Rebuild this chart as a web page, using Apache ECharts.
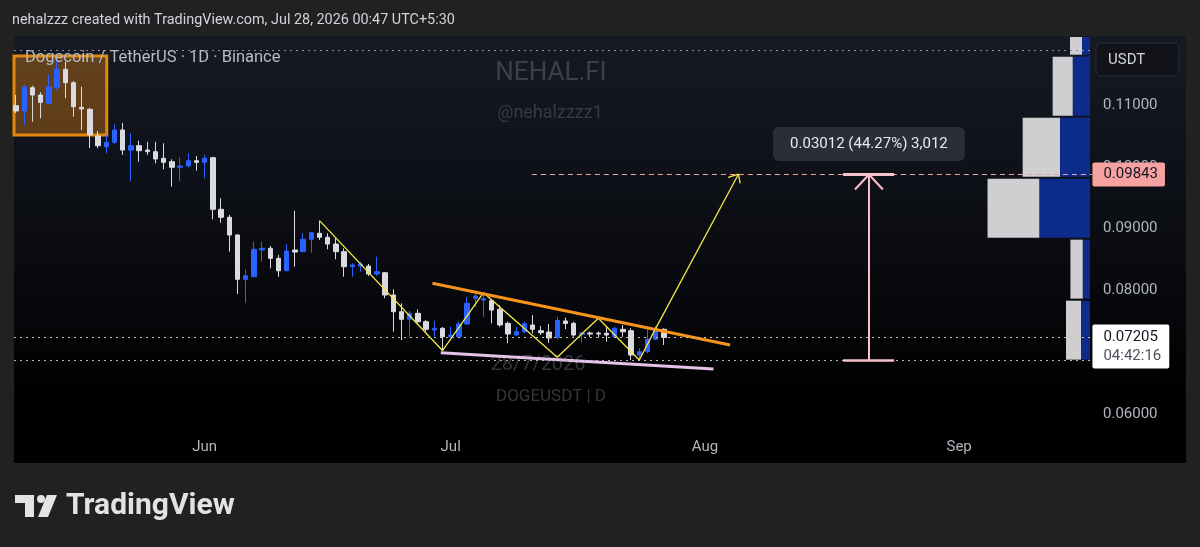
<!DOCTYPE html>
<html>
<head>
<meta charset="utf-8">
<title>DOGEUSDT 1D</title>
<script src="https://cdn.jsdelivr.net/npm/echarts@6/dist/echarts.min.js"></script>
<style>
  html, body { margin: 0; padding: 0; background: #212121; }
  #chart { width: 1200px; height: 547px; }
</style>
</head>
<body>
<div id="chart"></div>
<script>
// daily candles, first one on 2026-05-09, last one 2026-07-27
const startDate = '2026-05-09';
const opens = [0.10956, 0.10871, 0.11248, 0.11129, 0.10995, 0.11254, 0.11545, 0.11328, 0.10930, 0.10898,
  0.10466, 0.10293, 0.10364, 0.10563, 0.10239, 0.10309, 0.10239, 0.10212, 0.10105, 0.10050,
  0.09960, 0.09981, 0.10066, 0.10040, 0.10115, 0.09280, 0.09151, 0.08864, 0.08147, 0.08189,
  0.08621, 0.08649, 0.08487, 0.08286, 0.08621, 0.08594, 0.08795, 0.08892, 0.08827, 0.08718,
  0.08594, 0.08351, 0.08362, 0.08362, 0.08233, 0.08254, 0.07893, 0.07623, 0.07500, 0.07597,
  0.07461, 0.07327, 0.07354, 0.07218, 0.07218, 0.07424, 0.07840, 0.07812, 0.07801, 0.07662,
  0.07435, 0.07246, 0.07299, 0.07408, 0.07316, 0.07294, 0.07206, 0.07473, 0.07435, 0.07257,
  0.07278, 0.07278, 0.07273, 0.07218, 0.07338, 0.07316, 0.06922, 0.06976, 0.07176, 0.07338];
const closes = [0.10871, 0.11254, 0.11129, 0.11011, 0.11259, 0.11545, 0.11328, 0.10940, 0.10903, 0.10482,
  0.10309, 0.10364, 0.10563, 0.10239, 0.10309, 0.10228, 0.10212, 0.10094, 0.10040, 0.09960,
  0.09981, 0.10066, 0.10040, 0.10105, 0.09280, 0.09151, 0.08864, 0.08147, 0.08206, 0.08633,
  0.08649, 0.08487, 0.08286, 0.08605, 0.08589, 0.08795, 0.08901, 0.08827, 0.08718, 0.08594,
  0.08351, 0.08379, 0.08395, 0.08233, 0.08270, 0.07893, 0.07623, 0.07500, 0.07597, 0.07461,
  0.07338, 0.07354, 0.07218, 0.07246, 0.07424, 0.07759, 0.07877, 0.07833, 0.07650, 0.07408,
  0.07262, 0.07299, 0.07430, 0.07338, 0.07283, 0.07197, 0.07481, 0.07432, 0.07246, 0.07278,
  0.07262, 0.07262, 0.07246, 0.07354, 0.07299, 0.06922, 0.06976, 0.07176, 0.07338, 0.07205];
const lows = [0.10838, 0.10644, 0.10697, 0.10752, 0.10979, 0.11210, 0.11076, 0.10778, 0.10563, 0.10272,
  0.10272, 0.10186, 0.10332, 0.10159, 0.09738, 0.10050, 0.10159, 0.10024, 0.09927, 0.09646,
  0.09738, 0.09960, 0.09905, 0.09782, 0.09118, 0.09063, 0.08594, 0.07909, 0.07769, 0.08180,
  0.08432, 0.08325, 0.08189, 0.08286, 0.08351, 0.08594, 0.08578, 0.08783, 0.08633, 0.08471,
  0.08189, 0.08189, 0.08270, 0.08201, 0.08201, 0.07840, 0.07299, 0.07165, 0.07218, 0.07435,
  0.07299, 0.07218, 0.06995, 0.07193, 0.07193, 0.07408, 0.07699, 0.07542, 0.07435, 0.07380,
  0.07112, 0.07230, 0.07273, 0.07273, 0.07246, 0.07117, 0.07173, 0.07343, 0.07218, 0.07125,
  0.07214, 0.07206, 0.07138, 0.07218, 0.07218, 0.06841, 0.06831, 0.06950, 0.07165, 0.07084];
const highs = [0.11129, 0.11291, 0.11280, 0.11173, 0.11464, 0.11680, 0.11663, 0.11356, 0.11264, 0.10919,
  0.10547, 0.10482, 0.10655, 0.10676, 0.10515, 0.10390, 0.10374, 0.10374, 0.10348, 0.10089,
  0.10115, 0.10186, 0.10142, 0.10159, 0.10131, 0.09458, 0.09188, 0.08880, 0.08309, 0.08756,
  0.08756, 0.08686, 0.08541, 0.08718, 0.09257, 0.08892, 0.08918, 0.09096, 0.08892, 0.08811,
  0.08649, 0.08406, 0.08432, 0.08395, 0.08513, 0.08265, 0.07985, 0.07759, 0.07634, 0.07662,
  0.07489, 0.07477, 0.07375, 0.07380, 0.07461, 0.07866, 0.07930, 0.07921, 0.07828, 0.07731,
  0.07461, 0.07380, 0.07461, 0.07570, 0.07392, 0.07424, 0.07542, 0.07529, 0.07461, 0.07299,
  0.07303, 0.07303, 0.07392, 0.07380, 0.07408, 0.07354, 0.07031, 0.07354, 0.07392, 0.07354];

const monthStarts = ['2026-06-01', '2026-07-01', '2026-08-01', '2026-09-01'];
const monthLabels = ['Jun', 'Jul', 'Aug', 'Sep'];
const priceTicks = [0.06, 0.07, 0.08, 0.09, 0.10, 0.11];

// drawings, as [day index, price]
const zigzag = [[37, 0.09096], [52, 0.06995], [57, 0.07930], [66, 0.06885], [71, 0.07516], [76, 0.06841], [78, 0.07354]];
const targetArrow = [[78, 0.07354], [88.1, 0.09851]];
const arrowWings = [[86.83, 0.09798], [88.29, 0.09701]];
const resistance = [[50.77, 0.08083], [87.07, 0.07084]];
const support = [[51.79, 0.06960], [85.04, 0.06696]];
const boxArea = [[-0.33, 0.11760], [11.06, 0.10482]];
const targetPrice = 0.09843;
const targetFrom = 62.9;
const measureLow = 0.06831;
const measureDay = 104;
const measureCap = [100.85, 107.07];
const measureWing = [[102.3, 0.09600], [105.7, 0.09600]];
const measureText = '0.03012 (44.27%) 3,012';
const lastPrice = 0.07205;
const countdown = '04:42:16';
const rangeHigh = 0.11858;

// visible range volume profile rows, bottom to top
const vpEdges = [0.06831, 0.07818, 0.08805, 0.09792, 0.10779, 0.11766, 0.12753];
const vpBlue = [102, 86, 489, 297, 179, 93];
const vpGray = [139, 114, 480, 346, 186, 111];

const xMin = -0.25, xMax = 131.2;
const DAY = 86400000;
const dayIndex = d => Math.round((Date.parse(d) - Date.parse(startDate)) / DAY);
const monthIdx = monthStarts.map(dayIndex);

const candles = opens.map((o, i) => [i, o, closes[i], lows[i], highs[i]]);
const vpRows = vpBlue.map((b, i) => [vpEdges[i], vpEdges[i + 1], b, vpGray[i]]);

const seg = (a, b, style) => [{coord: a, lineStyle: style}, {coord: b}];
const hline = (p, style) => seg([xMin, p], [xMax, p], style);

const chart = echarts.init(document.getElementById('chart'));
const font = 'Roboto, sans-serif';

const option = {
  animation: false,
  backgroundColor: '#212121',
  textStyle: {fontFamily: font},
  grid: {left: 14, right: 108, top: 37, bottom: 117, containLabel: false, outerBoundsMode: 'none'},
  xAxis: [
    {
      type: 'value', min: xMin, max: xMax,
      axisLine: {show: false}, axisTick: {show: false}, splitLine: {show: false},
      axisLabel: {
        customValues: monthIdx, color: '#b2b5be', fontSize: 15, margin: 10, fontFamily: font,
        formatter: v => monthLabels[monthIdx.indexOf(v)] || ''
      }
    },
    {type: 'value', min: 0, max: 10000, inverse: true, show: false, position: 'top'}
  ],
  yAxis: {
    type: 'value', position: 'right', min: 0.05709, max: 0.12068, scale: true,
    axisLine: {show: false}, axisTick: {show: false}, splitLine: {show: false},
    axisLabel: {
      customValues: priceTicks, margin: 11,
      formatter: v => '{v|' + v.toFixed(5) + '}',
      rich: {v: {color: '#b2b5be', fontSize: 15, fontFamily: font, padding: [4, 0, 0, 0]}}
    }
  },
  graphic: [
    {
      type: 'rect', z: -2, silent: true,
      shape: {x: 14, y: 36, width: 1172, height: 427},
      style: {fill: new echarts.graphic.LinearGradient(0, 0, 0, 1, [
        {offset: 0, color: '#161a25'}, {offset: 0.5, color: '#0a0c11'}, {offset: 0.85, color: '#000000'}, {offset: 1, color: '#000000'}
      ])}
    },
    {type: 'text', z: -1, silent: true, x: 551, y: 73, style: {text: 'NEHAL.FI', fill: '#3b404d', font: '26px ' + font, align: 'center', verticalAlign: 'middle'}},
    {type: 'text', z: -1, silent: true, x: 550, y: 113, style: {text: '@nehalzzzz1', fill: '#353a46', font: '18px ' + font, align: 'center', verticalAlign: 'middle'}},
    {type: 'text', z: -1, silent: true, x: 538, y: 365, style: {text: '28/7/2026', fill: '#363636', font: '20px ' + font, align: 'center', verticalAlign: 'middle'}},
    {type: 'text', z: -1, silent: true, x: 551, y: 397, style: {text: 'DOGEUSDT | D', fill: '#363636', font: '17px ' + font, align: 'center', verticalAlign: 'middle'}},
    {type: 'text', z: 10, silent: true, x: 12, y: 20, style: {text: 'nehalzzz created with TradingView.com, Jul 28, 2026 00:47 UTC+5:30', fill: '#d1d4dc', font: '14.4px ' + font, verticalAlign: 'middle'}},
    {type: 'text', z: 10, silent: true, x: 25, y: 58, style: {text: 'Dogecoin / TetherUS · 1D · Binance', fill: '#b8bbc4', font: '16.5px ' + font, verticalAlign: 'middle'}},
    {type: 'rect', z: 10, silent: true, shape: {x: 1096, y: 43, width: 83, height: 33, r: 5}, style: {fill: '#111318', stroke: '#2a2e39', lineWidth: 1}},
    {type: 'text', z: 11, silent: true, x: 1108, y: 60, style: {text: 'USDT', fill: '#d1d4dc', font: '15px ' + font, verticalAlign: 'middle'}},
    // TradingView logo
    {type: 'polygon', z: 10, silent: true, shape: {points: [[15, 495], [34, 495], [34, 517], [25, 517], [25, 503], [15, 503]]}, style: {fill: '#e3e3e3'}},
    {type: 'circle', z: 10, silent: true, shape: {cx: 41, cy: 499, r: 4}, style: {fill: '#e3e3e3'}},
    {type: 'polygon', z: 10, silent: true, shape: {points: [[47, 495], [57, 495], [48, 517], [38, 517]]}, style: {fill: '#e3e3e3'}},
    {type: 'text', z: 10, silent: true, x: 66, y: 506, style: {text: 'TradingView', fill: '#e3e3e3', font: 'bold 30px ' + font, verticalAlign: 'middle'}}
  ],
  series: [
    {
      // highlighted box, behind the candles
      type: 'line', name: 'box', data: [], z: 1, silent: true,
      markArea: {
        silent: true,
        itemStyle: {color: 'rgba(235,135,20,0.36)', borderColor: '#e0890c', borderWidth: 3},
        data: [[{coord: boxArea[0]}, {coord: boxArea[1]}]]
      }
    },
    {
      type: 'custom', name: 'volume profile', xAxisIndex: 1, yAxisIndex: 0, clip: true, silent: true, z: 2,
      data: vpRows,
      encode: {x: 2, y: [0, 1]},
      renderItem: (params, api) => {
        const lo = api.value(0), hi = api.value(1), b = api.value(2), g = api.value(3);
        const base = api.coord([0, hi]);
        const mid = api.coord([b, lo]);
        const end = api.coord([b + g, lo]);
        const h = mid[1] - base[1] - 2;
        return {
          type: 'group',
          children: [
            {type: 'rect', shape: {x: mid[0], y: base[1] + 1, width: base[0] - mid[0] - 2, height: h}, style: {fill: '#0c2b8a'}},
            {type: 'rect', shape: {x: end[0], y: base[1] + 1, width: mid[0] - end[0], height: h}, style: {fill: '#cfcfd1'}}
          ]
        };
      }
    },
    {
      type: 'candlestick', name: 'DOGEUSDT', data: candles, z: 3,
      encode: {x: 0, y: [1, 2, 3, 4]},
      barWidth: 5,
      itemStyle: {color: '#2962ff', color0: '#d9dbe0', borderColor: '#2962ff', borderColor0: '#d9dbe0', borderWidth: 1}
    },
    {
      type: 'line', name: 'zigzag', data: zigzag, z: 4, symbol: 'none', silent: true,
      lineStyle: {color: '#f5e64a', width: 1.3}
    },
    {
      type: 'line', name: 'resistance', data: resistance, z: 4, symbol: 'none', silent: true,
      lineStyle: {color: '#f7931a', width: 3}
    },
    {
      type: 'line', name: 'support', data: support, z: 4, symbol: 'none', silent: true,
      lineStyle: {color: '#e4c2ea', width: 3}
    },
    {
      type: 'line', name: 'levels', data: [], z: 5, clip: false, silent: true,
      markLine: {
        silent: true, symbol: ['none', 'none'], label: {show: false},
        data: [
          hline(rangeHigh, {color: '#8c8f99', type: [2, 4], width: 1}),
          hline(lastPrice, {color: '#c9c4a0', type: [2, 4], width: 1}),
          hline(measureLow, {color: '#b4b8c4', type: [2, 4], width: 1}),
          seg([targetFrom, targetPrice], [xMax, targetPrice], {color: '#f2a0a6', type: [5, 4], width: 1}),
          // projected move arrow
          seg(targetArrow[0], targetArrow[1], {color: '#f5e64a', type: 'solid', width: 1.3}),
          seg(targetArrow[1], arrowWings[0], {color: '#f5e64a', type: 'solid', width: 1.3}),
          seg(targetArrow[1], arrowWings[1], {color: '#f5e64a', type: 'solid', width: 1.3}),
          // price range measure
          seg([measureDay, measureLow], [measureDay, targetPrice], {color: '#f9c2ca', type: 'solid', width: 2}),
          seg([measureCap[0], targetPrice], [measureCap[1], targetPrice], {color: '#f9c2ca', type: 'solid', width: 3}),
          seg([measureCap[0], measureLow], [measureCap[1], measureLow], {color: '#f9c2ca', type: 'solid', width: 2.5}),
          seg([measureDay, targetPrice], measureWing[0], {color: '#f9c2ca', type: 'solid', width: 2}),
          seg([measureDay, targetPrice], measureWing[1], {color: '#f9c2ca', type: 'solid', width: 2})
        ]
      },
      markPoint: {
        silent: true, symbol: 'rect', symbolSize: 1, itemStyle: {color: 'rgba(0,0,0,0)'},
        data: [
          {
            coord: [measureDay, targetPrice],
            label: {
              show: true, position: 'top', distance: 13, formatter: measureText,
              color: '#e9eaee', fontSize: 15, fontFamily: font, lineHeight: 18,
              backgroundColor: '#2a2e39', padding: [8, 17], borderRadius: 6
            }
          },
          {
            coord: [xMax - 0.01, targetPrice],
            label: {
              show: true, position: 'right', distance: 0, formatter: targetPrice.toFixed(5),
              color: '#131722', fontSize: 15, fontFamily: font, lineHeight: 18,
              backgroundColor: '#f7a1a1', padding: [3, 7, 3, 11], borderRadius: 2
            }
          },
          {
            coord: [xMax - 0.01, lastPrice],
            label: {
              show: true, position: 'right', distance: 0, offset: [0, 9],
              formatter: '{p|' + lastPrice.toFixed(5) + '}\n{t|' + countdown + '}',
              backgroundColor: '#ffffff', padding: [3, 8, 3, 11], borderRadius: 2,
              rich: {
                p: {color: '#131722', fontSize: 15, fontFamily: font, lineHeight: 19},
                t: {color: '#50535e', fontSize: 15, fontFamily: font, lineHeight: 19}
              }
            }
          }
        ]
      }
    }
  ]
};

chart.setOption(option);
</script>
</body>
</html>
